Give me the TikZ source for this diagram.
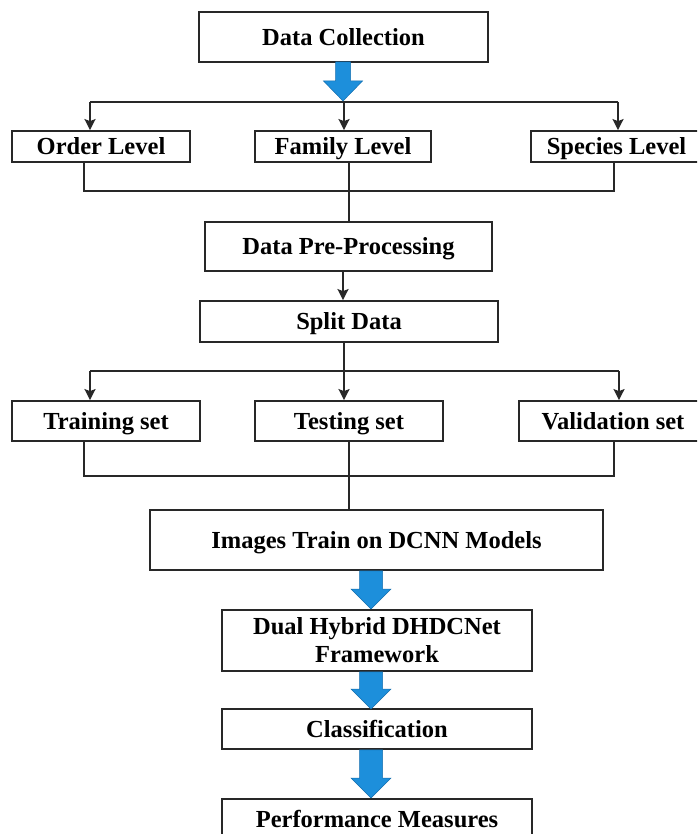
\documentclass[tikz,border=0pt]{standalone}
\usepackage{fontspec}
\setmainfont{Liberation Serif}
\usetikzlibrary{calc,arrows.meta}
\definecolor{arrowblue}{RGB}{29,143,219}
\definecolor{arrowedge}{RGB}{20,110,175}
\definecolor{linegray}{RGB}{40,40,40}
\tikzset{
  box/.style={draw=linegray, line width=1.8pt, fill=white, inner sep=0pt,
    font=\bfseries\fontsize{24.5}{28}\selectfont, align=center},
  one/.style={box, text height=17pt, text depth=0.5pt},
  conn/.style={draw=linegray, line width=1.8pt},
  arr/.style={conn, -{Stealth[length=11pt,width=11pt,inset=2pt]}},
  barrow/.style={fill=arrowblue, draw=arrowedge, line width=0.5pt, line join=miter}
}
\newcommand{\bluearrow}[4]{%
  \filldraw[barrow] ($(#1)+(-#3,0)$) -- ($(#2)+(-#3,-20)$) -- ($(#2)+(-#4,-20)$) -- (#2)
    -- ($(#2)+(#4,-20)$) -- ($(#2)+(#3,-20)$) -- ($(#1)+(#3,0)$) -- cycle;}
\begin{document}
\begin{tikzpicture}[x=1pt,y=-1pt]
\fill[white] (0,0) rectangle (697,834);
\useasboundingbox (0,0) rectangle (697,834);
\clip (0,0) rectangle (697,834);

% boxes
\node[one, minimum width=289, minimum height=50] (dc) at (343.5,37) {Data Collection};
\node[one, minimum width=178, minimum height=31] (order) at (101,146.5) {Order Level};
\node[one, minimum width=176, minimum height=31] (family) at (343,146.5) {Family Level};
\node[one, minimum width=171, minimum height=31] (species) at (616.5,146.5) {Species Level};
\node[one, minimum width=287, minimum height=49] (dpp) at (348.5,246.5) {Data Pre-Processing};
\node[one, minimum width=298, minimum height=41] (split) at (349,321.5) {Split Data};
\node[one, minimum width=188, minimum height=40] (train) at (106,421) {Training set};
\node[one, minimum width=188, minimum height=40] (test) at (349,421) {Testing set};
\node[one, minimum width=188, minimum height=40] (valid) at (613,421) {Validation set};
\node[one, minimum width=453, minimum height=60] (images) at (376.5,540) {Images Train on DCNN Models};
\node[box, minimum width=310, minimum height=61] (dual) at (377,640.5) {Dual Hybrid DHDCNet\\Framework};
\node[one, minimum width=310, minimum height=40] (cls) at (377,729) {Classification};
\node[one, minimum width=310, minimum height=40] (perf) at (377,819) {Performance Measures};

% level fan-out
\coordinate (b1s) at (343,62);
\coordinate (b1t) at (343,101);
\coordinate (fl) at (90,102);
\coordinate (fr) at (618,102);
\coordinate (fm) at (344,102);
\draw[conn] (fl) -- (fr);
\draw[arr] (fl) -- (fl |- order.north);
\draw[arr] (fm) -- (fm |- family.north);
\draw[arr] (fr) -- (fr |- species.north);
\bluearrow{b1s}{b1t}{7.5}{19.5}

% level join
\coordinate (j1) at (84,191);
\coordinate (j2) at (614,191);
\coordinate (jm) at (349,0);
\draw[conn] (j1 |- order.south) -- (j1) -- (j2) -- (j2 |- species.south);
\draw[conn] (jm |- family.south) -- (jm |- dpp.north);

% pre-processing to split
\coordinate (ps) at (343,0);
\draw[arr] (ps |- dpp.south) -- (ps |- split.north);

% split fan-out
\coordinate (sl) at (90,371);
\coordinate (sm) at (344,371);
\coordinate (sr) at (619,371);
\draw[conn] (sl) -- (sr);
\draw[arr] (sm |- split.south) -- (sm |- test.north);
\draw[arr] (sl) -- (sl |- train.north);
\draw[arr] (sr) -- (sr |- valid.north);

% set join
\coordinate (k1) at (84,476);
\coordinate (k2) at (614,476);
\draw[conn] (k1 |- train.south) -- (k1) -- (k2) -- (k2 |- valid.south);
\draw[conn] (jm |- test.south) -- (jm |- images.north);

% blue arrows lower
\coordinate (bx) at (371,0);
\coordinate (b2s) at (bx |- images.south);
\coordinate (b2t) at (371,609);
\coordinate (b3s) at (bx |- dual.south);
\coordinate (b3t) at (371,709);
\coordinate (b4s) at (bx |- cls.south);
\coordinate (b4t) at (371,798);
\bluearrow{b2s}{b2t}{11.5}{20}
\bluearrow{b3s}{b3t}{11.5}{20}
\bluearrow{b4s}{b4t}{11.5}{20}
\end{tikzpicture}
\end{document}
